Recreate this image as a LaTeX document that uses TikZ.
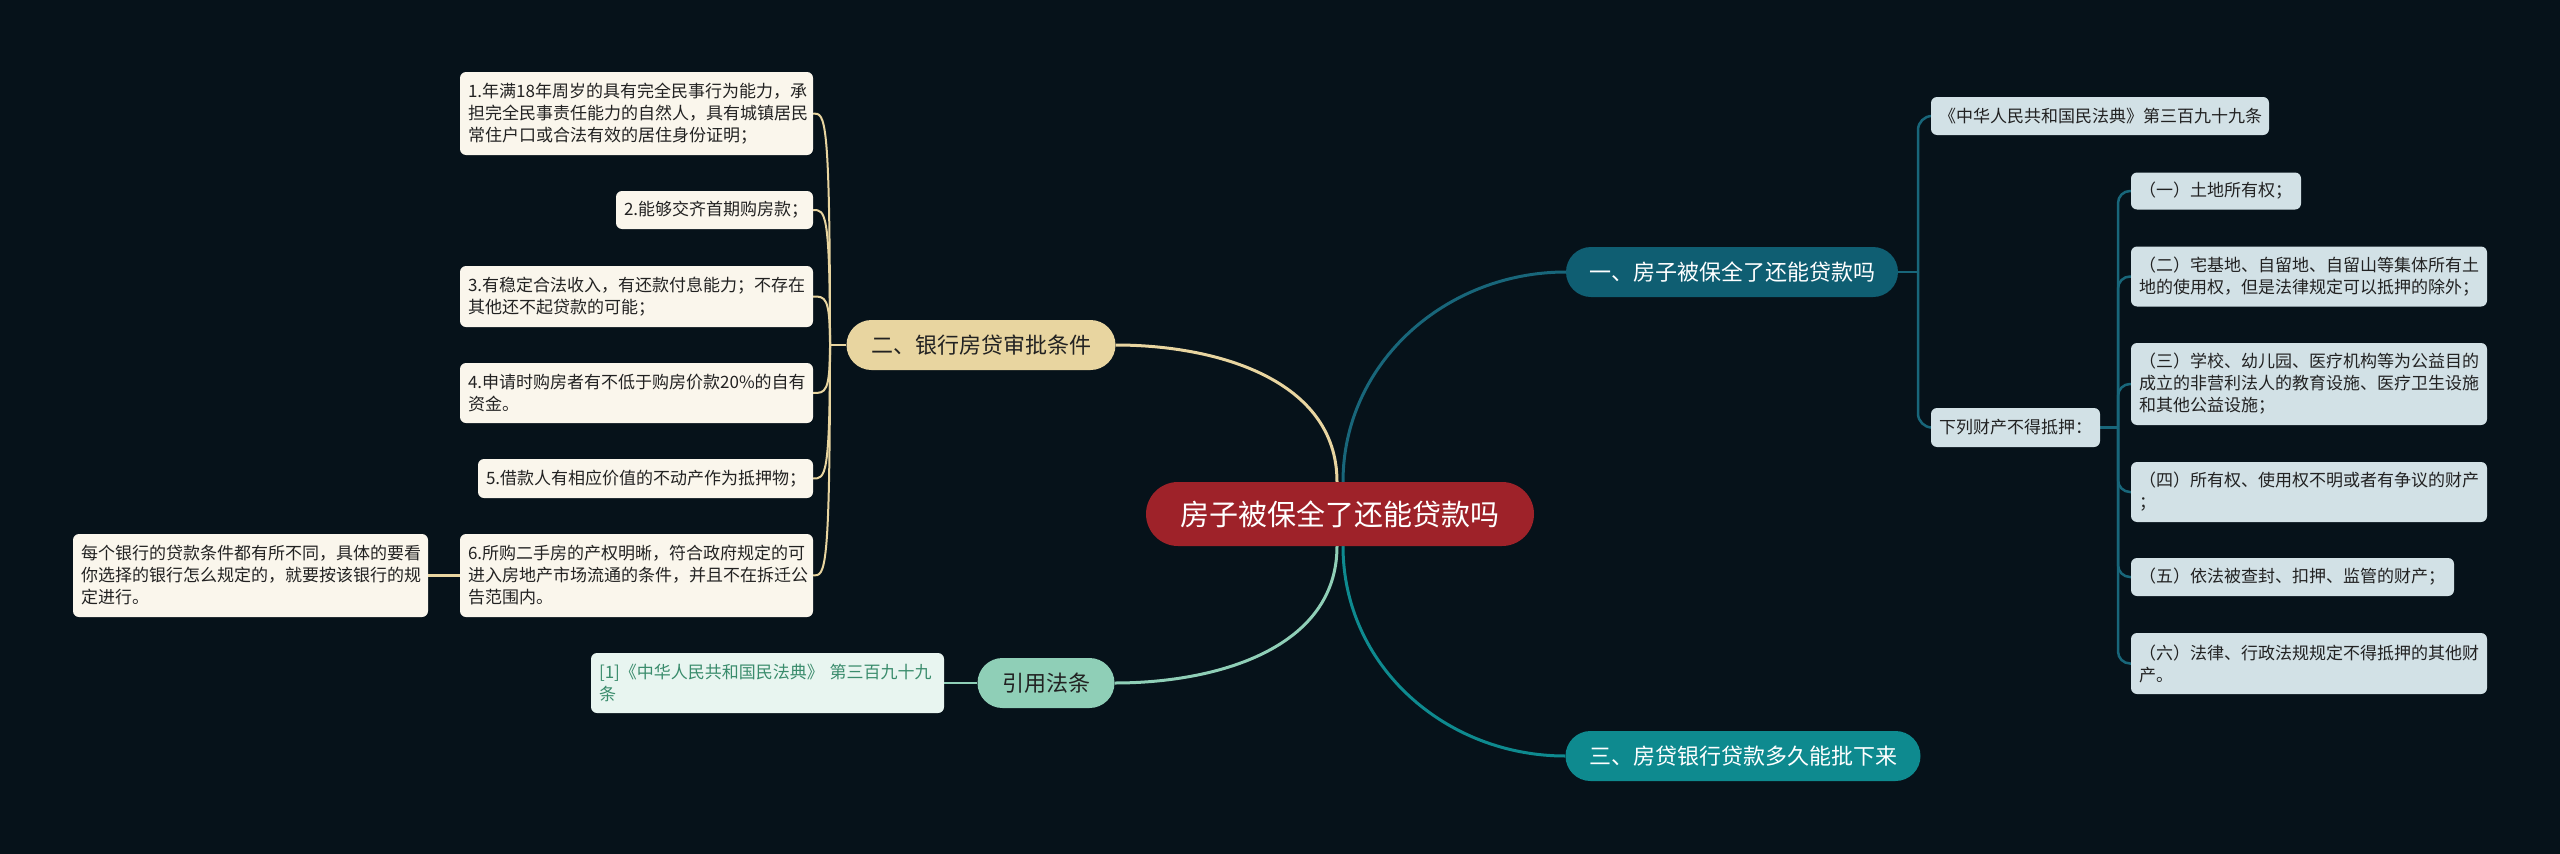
\documentclass[tikz,border=0pt]{standalone}
\usepackage{fontspec}
\setmainfont{Noto Sans CJK SC}
\pgfdeclarelayer{bg}
\pgfdeclarelayer{edges}
\pgfsetlayers{bg,edges,main}
\definecolor{bgc}{RGB}{6,18,26}
\definecolor{rootc}{RGB}{158,34,41}
\definecolor{onec}{RGB}{15,94,114}
\definecolor{threec}{RGB}{14,138,143}
\definecolor{twoc}{RGB}{232,213,160}
\definecolor{refc}{RGB}{143,207,183}
\definecolor{leafl}{RGB}{250,246,236}
\definecolor{leafr}{RGB}{210,225,230}
\definecolor{leafref}{RGB}{232,245,240}
\definecolor{reftext}{RGB}{58,140,108}
\definecolor{darktext}{RGB}{34,34,34}
\definecolor{lineone}{RGB}{24,102,122}
\tikzset{
  leafbox/.style={inner xsep=8pt, inner ysep=0pt, align=left, rounded corners=6pt,
    font=\fontsize{17}{22}\selectfont, text=darktext},
  lleaf/.style={leafbox, fill=leafl},
  rleaf/.style={leafbox, fill=leafr},
  refleaf/.style={leafbox, fill=leafref, text=reftext},
  branchbox/.style={inner sep=0pt, minimum height=50pt, rounded corners=25pt,
    font=\fontsize{22}{26}\selectfont, align=center},
  rootbox/.style={inner sep=0pt, minimum height=64pt, minimum width=388pt, rounded corners=32pt,
    fill=rootc, text=white, font=\fontsize{29}{34}\selectfont},
  twoline/.style={draw=twoc, line width=2pt},
  oneline/.style={draw=lineone, line width=2.5pt},
}
\begin{document}
\begin{tikzpicture}[x=1pt,y=-1pt]
\useasboundingbox (0,0) rectangle (2560,854);
\begin{pgfonlayer}{bg}
\fill[bgc] (0,0) rectangle (2560,854);
\end{pgfonlayer}

% root and branches
\node[rootbox] (root) at (1340,514) {房子被保全了还能贷款吗};
\node[branchbox, fill=onec, text=white, minimum width=332pt] (one) at (1732,272) {一、房子被保全了还能贷款吗};
\node[branchbox, fill=twoc, text=darktext, minimum width=269pt] (two) at (981,345) {二、银行房贷审批条件};
\node[branchbox, fill=refc, text=darktext, minimum width=137pt] (ref) at (1046,683) {引用法条};
\node[branchbox, fill=threec, text=white, minimum width=355pt] (three) at (1743,756) {三、房贷银行贷款多久能批下来};

% left leaves
\node[lleaf, text width=337pt, minimum height=83pt] (L1) at (636.5,113.5) {1.年满18年周岁的具有完全民事行为能力，承\\担完全民事责任能力的自然人，具有城镇居民\\常住户口或合法有效的居住身份证明；};
\node[lleaf, text width=181pt, minimum height=38pt] (L2) at (714.5,210) {2.能够交齐首期购房款；};
\node[lleaf, text width=337pt, minimum height=61pt] (L3) at (636.5,296.5) {3.有稳定合法收入，有还款付息能力；不存在\\其他还不起贷款的可能；};
\node[lleaf, text width=337pt, minimum height=60pt] (L4) at (636.5,393) {4.申请时购房者有不低于购房价款20\%的自有\\资金。};
\node[lleaf, text width=319pt, minimum height=39pt] (L5) at (645.5,478.5) {5.借款人有相应价值的不动产作为抵押物；};
\node[lleaf, text width=337pt, minimum height=83pt] (L6) at (636.5,575.5) {6.所购二手房的产权明晰，符合政府规定的可\\进入房地产市场流通的条件，并且不在拆迁公\\告范围内。};
\node[lleaf, text width=339pt, minimum height=83pt] (E) at (250.5,575.5) {每个银行的贷款条件都有所不同，具体的要看\\你选择的银行怎么规定的，就要按该银行的规\\定进行。};
\node[refleaf, text width=337pt, minimum height=60pt] (R0) at (767.5,683) {[1]《中华人民共和国民法典》 第三百九十九\\条};

% right leaves
\node[rleaf, text width=322pt, minimum height=38pt] (R1) at (2100,116) {《中华人民共和国民法典》第三百九十九条};
\node[rleaf, text width=153pt, minimum height=39pt] (R2) at (2015.5,427.5) {下列财产不得抵押：};
\node[rleaf, text width=154pt, minimum height=37pt] (S1) at (2216,191) {（一）土地所有权；};
\node[rleaf, text width=340pt, minimum height=60pt] (S2) at (2309,276.5) {（二）宅基地、自留地、自留山等集体所有土\\地的使用权，但是法律规定可以抵押的除外；};
\node[rleaf, text width=340pt, minimum height=82pt] (S3) at (2309,384) {（三）学校、幼儿园、医疗机构等为公益目的\\成立的非营利法人的教育设施、医疗卫生设施\\和其他公益设施；};
\node[rleaf, text width=340pt, minimum height=60pt] (S4) at (2309,492) {（四）所有权、使用权不明或者有争议的财产\\；};
\node[rleaf, text width=307pt, minimum height=38pt] (S5) at (2292.5,577) {（五）依法被查封、扣押、监管的财产；};
\node[rleaf, text width=340pt, minimum height=61pt] (S6) at (2309,663.5) {（六）法律、行政法规规定不得抵押的其他财\\产。};

\coordinate (jL) at (830,345);
\coordinate (j1) at (1918,272);
\coordinate (j2) at (2118,427.5);

\begin{pgfonlayer}{edges}
% root connectors
\draw[draw=lineone, line width=3pt] ([xshift=3pt]root.north) to[out=90,in=180] (one.west);
\draw[draw=twoc, line width=3pt] ([xshift=-3pt]root.north) to[out=90,in=0] (two.east);
\draw[draw=refc, line width=3pt] ([xshift=-3pt]root.south) to[out=-90,in=0] (ref.east);
\draw[draw=threec, line width=3pt] ([xshift=3pt]root.south) to[out=-90,in=180] (three.west);
% left subtree
\draw[twoline] (two.west) -- (jL);
\foreach \n in {L1,L2,L3,L4,L5,L6}{
  \draw[twoline] (\n.east) .. controls +(12,0) and (jL |- \n.east) .. (jL);
}
\draw[twoline, line width=2.5pt] (L6.west) -- (E.east);
\draw[draw=refc, line width=2.5pt] (ref.west) -- (R0.east);
% right subtree
\draw[oneline] (one.east) -- (j1);
\draw[oneline, rounded corners=14pt] (j1) |- (R1.west);
\draw[oneline, rounded corners=14pt] (j1) |- (R2.west);
\draw[oneline] (R2.east) -- (j2);
\foreach \n in {S1,S2,S3,S4,S5,S6}{
  \draw[oneline, rounded corners=12pt] (j2) |- (\n.west);
}
\end{pgfonlayer}
\end{tikzpicture}
\end{document}
